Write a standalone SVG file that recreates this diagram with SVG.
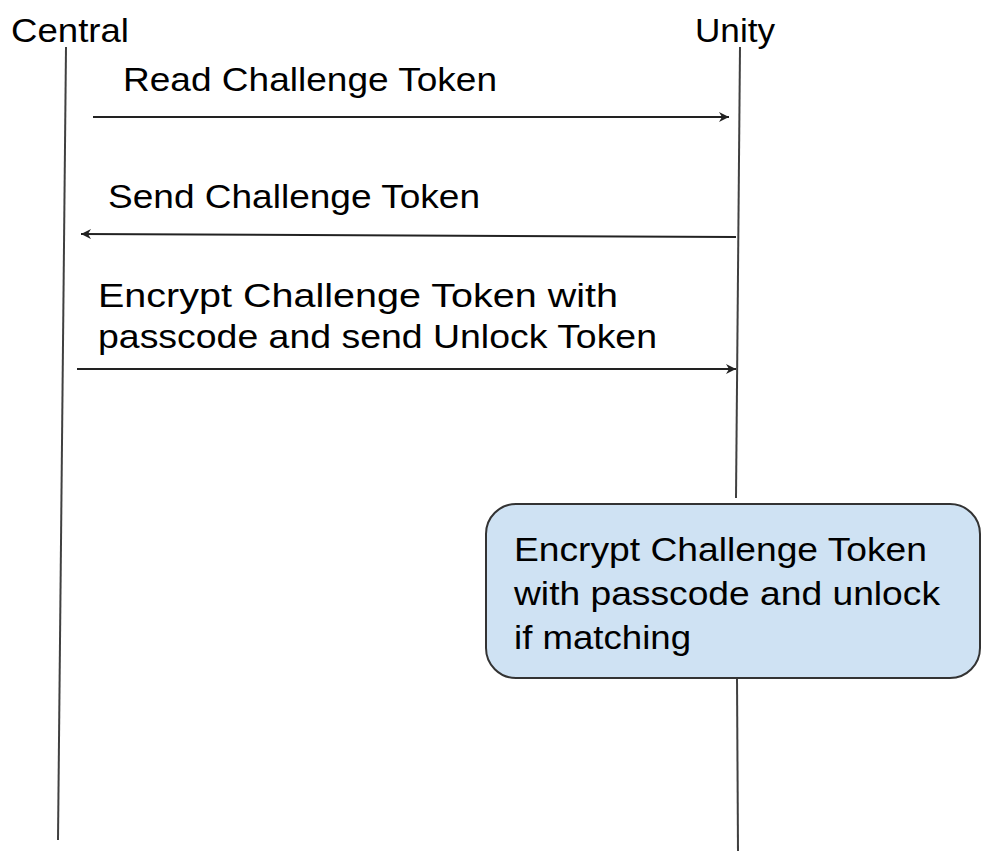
<svg xmlns="http://www.w3.org/2000/svg" width="982" height="851" viewBox="0 0 982 851">
<style>
  text { font-family: "Liberation Sans", Arial, sans-serif; font-size: 34px; fill: #000; }
  .life { stroke: #404040; stroke-width: 2; fill: none; }
  .msg { stroke: #222; stroke-width: 2; fill: none; marker-end: url(#ah); }
  .box { fill: #cfe2f3; stroke: #333; stroke-width: 2; }
</style>
<defs>
  <marker id="ah" viewBox="0 0 10 10" refX="10" refY="5" markerWidth="5" markerHeight="5" orient="auto" markerUnits="strokeWidth">
    <path d="M0,0 L10,5 L0,10 L3,5 Z" fill="#222"/>
  </marker>
</defs>
<rect width="982" height="851" fill="#fff"/>
<g id="central">
  <text x="11" y="42" textLength="118" lengthAdjust="spacingAndGlyphs">Central</text>
  <line class="life" x1="66" y1="47" x2="58" y2="840"/>
</g>
<g id="unity">
  <text x="695" y="42" textLength="80" lengthAdjust="spacingAndGlyphs">Unity</text>
  <line class="life" x1="740" y1="47" x2="736" y2="498"/>
  <line class="life" x1="737" y1="678" x2="738" y2="851"/>
</g>
<g id="connectors">
  <line class="msg" x1="93" y1="117" x2="729" y2="117"/>
  <text x="123" y="91" textLength="374" lengthAdjust="spacingAndGlyphs">Read Challenge Token</text>
  <line class="msg" x1="736" y1="237" x2="81" y2="234"/>
  <text x="108" y="208" textLength="372" lengthAdjust="spacingAndGlyphs">Send Challenge Token</text>
  <line class="msg" x1="77" y1="369" x2="736" y2="369"/>
  <text x="98" y="307" textLength="520" lengthAdjust="spacingAndGlyphs">Encrypt Challenge Token with</text>
  <text x="98" y="348" textLength="559" lengthAdjust="spacingAndGlyphs">passcode and send Unlock Token</text>
</g>
<g id="unlock-box">
  <rect class="box" x="486" y="504" width="494" height="174" rx="30" ry="30"/>
  <text x="514" y="561" textLength="413" lengthAdjust="spacingAndGlyphs">Encrypt Challenge Token</text>
  <text x="514" y="605" textLength="426" lengthAdjust="spacingAndGlyphs">with passcode and unlock</text>
  <text x="514" y="649" textLength="177" lengthAdjust="spacingAndGlyphs">if matching</text>
</g>
</svg>
